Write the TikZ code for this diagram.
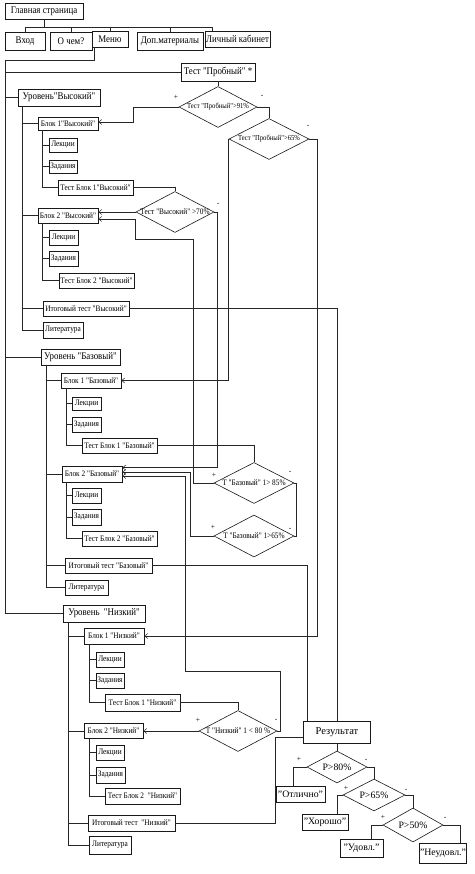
\documentclass[tikz,border=0pt]{standalone}
\usepackage{fontspec}
\setmainfont{Liberation Serif}
\newfontfamily\condf[FakeStretch=0.87]{Liberation Serif}
\usetikzlibrary{shapes.geometric,arrows.meta}
\begin{document}
\begin{tikzpicture}[x=1pt,y=-1pt,
  ln/.style={draw=black!85, line width=0.6pt},
  arr/.style={ln, -{Straight Barb[length=3pt,width=5pt,line width=0.5pt]}},
  bx/.style={draw=black!90, line width=0.7pt, inner sep=0.3pt, fill=white, font=\condf\fontsize{8.4}{9}\selectfont},
  big/.style={bx, font=\condf\fontsize{10.2}{11}\selectfont},
  res/.style={bx, font=\fontsize{9.8}{10}\selectfont},
  dia/.style={diamond, draw=black!90, line width=0.6pt, inner sep=0pt, fill=white},
  dts/.style={inner sep=0pt, font=\condf\fontsize{7.6}{8}\selectfont},
  dtm/.style={inner sep=0pt, font=\condf\fontsize{8.4}{9}\selectfont},
  dtl/.style={inner sep=0pt, font=\fontsize{9.8}{10}\selectfont},
  sg/.style={inner sep=0pt, font=\fontsize{7.5}{7.5}\selectfont}
]
\useasboundingbox[fill=white] (0,0) rectangle (474,874);

% ---------- top menu ----------
\node[big, minimum width=78pt, minimum height=16pt] (gl) at (44,11) {Главная страница};
\node[big, minimum width=40pt, minimum height=18pt] (vhod) at (25,41) {Вход};
\node[big, minimum width=42pt, minimum height=18pt] (ochem) at (71,41) {О чем?};
\node[big, minimum width=36pt, minimum height=16pt] (menu) at (110,39) {Меню};
\node[big, minimum width=66pt, minimum height=18pt] (dop) at (170,41) {Доп.материалы};
\node[big, minimum width=65pt, minimum height=16pt] (lk) at (237.5,39) {Личный кабинет};

\node[big, minimum width=74pt, minimum height=18pt] (tp) at (218,72) {Тест "Пробный" *};
\node[dia, minimum width=78pt, minimum height=41pt] (d1) at (218,107) {};
\node[dts] (d1t) at (218,107) {Тест "Пробный">91\%};
\node[dia, minimum width=80pt, minimum height=41pt] (d2) at (269,139) {};
\node[dts] (d2t) at (269,139) {Тест "Пробный">65\%};

% ---------- level high ----------
\node[big, minimum width=82pt, minimum height=17pt] (uv) at (59,97.5) {Уровень"Высокий"};
\node[bx, minimum width=60pt, minimum height=13pt] (b1v) at (68,123.5) {Блок 1"Высокий"};
\node[bx, minimum width=28pt, minimum height=14pt] (lec1v) at (63,145) {Лекции};
\node[bx, minimum width=28pt, minimum height=13pt] (zad1v) at (63,166.5) {Задания};
\node[bx, minimum width=75pt, minimum height=15pt] (t1v) at (95.5,187.5) {Тест Блок 1"Высокий"};
\node[dia, minimum width=78pt, minimum height=41pt] (d3) at (175,212) {};
\node[dtm] (d3t) at (175,212) {Тест "Высокий" >70\%};
\node[bx, minimum width=60pt, minimum height=15pt] (b2v) at (68,215.5) {Блок 2 "Высокий"};
\node[bx, minimum width=29pt, minimum height=15pt] (lec2v) at (63.5,237.5) {Лекции};
\node[bx, minimum width=29pt, minimum height=15pt] (zad2v) at (63.5,258.5) {Задания};
\node[bx, minimum width=75pt, minimum height=15pt] (t2v) at (96.5,280.5) {Тест Блок 2 "Высокий"};
\node[bx, minimum width=86pt, minimum height=15pt] (itv) at (86,308.5) {Итоговый тест "Высокий"};
\node[bx, minimum width=40pt, minimum height=16pt] (litv) at (63,330) {Литература};

% ---------- level base ----------
\node[big, minimum width=79pt, minimum height=16pt] (ub) at (80.5,357) {Уровень "Базовый"};
\node[bx, minimum width=60pt, minimum height=15pt] (b1b) at (91,380.5) {Блок 1 "Базовый"};
\node[bx, minimum width=29pt, minimum height=13pt] (lec1b) at (86.5,403.5) {Лекции};
\node[bx, minimum width=29pt, minimum height=15pt] (zad1b) at (86.5,424.5) {Задания};
\node[bx, minimum width=75pt, minimum height=15pt] (t1b) at (119.5,445.5) {Тест Блок 1 "Базовый"};
\node[dia, minimum width=80pt, minimum height=41pt] (d4) at (254,483) {};
\node[dtm] (d4t) at (254,483) {Т "Базовый" 1> 85\%};
\node[dia, minimum width=80pt, minimum height=42pt] (d5) at (254,536) {};
\node[dtm] (d5t) at (254,536) {Т "Базовый" 1>65\%};
\node[bx, minimum width=60pt, minimum height=16pt] (b2b) at (92,474) {Блок 2 "Базовый"};
\node[bx, minimum width=29pt, minimum height=15pt] (lec2b) at (86.5,495.5) {Лекции};
\node[bx, minimum width=29pt, minimum height=16pt] (zad2b) at (86.5,517) {Задания};
\node[bx, minimum width=75pt, minimum height=15pt] (t2b) at (119.5,538.5) {Тест Блок 2 "Базовый"};
\node[bx, minimum width=87pt, minimum height=15pt] (itb) at (108.5,565.5) {Итоговый тест "Базовый"};
\node[bx, minimum width=43pt, minimum height=15pt] (litb) at (86.5,587.5) {Литература};

% ---------- level low ----------
\node[big, minimum width=82pt, minimum height=17pt] (un) at (104,613.5) {Уровень\ \ "Низкий"};
\node[bx, minimum width=60pt, minimum height=16pt] (b1n) at (114,636) {Блок 1 "Низкий"};
\node[bx, minimum width=28pt, minimum height=15pt] (lec1n) at (110,659.5) {Лекции};
\node[bx, minimum width=28pt, minimum height=15pt] (zad1n) at (110,680.5) {Задания};
\node[bx, minimum width=75pt, minimum height=17pt] (t1n) at (142.5,702.5) {Тест Блок 1 "Низкий"};
\node[dia, minimum width=78pt, minimum height=41pt] (d6) at (238,731) {};
\node[dtm] (d6t) at (238,731) {Т "Низкий" 1 < 80 \%};
\node[bx, minimum width=59pt, minimum height=15pt] (b2n) at (113.5,731) {Блок 2 "Низкий"};
\node[bx, minimum width=28pt, minimum height=15pt] (lec2n) at (110,752.5) {Лекции};
\node[bx, minimum width=29pt, minimum height=16pt] (zad2n) at (110.5,775) {Задания};
\node[bx, minimum width=75pt, minimum height=16pt] (t2n) at (142.5,796) {Тест Блок 2\ \ "Низкий"};
\node[bx, minimum width=87pt, minimum height=16pt] (itn) at (131.5,823) {Итоговый тест\ \ "Низкий"};
\node[bx, minimum width=42pt, minimum height=18pt] (litn) at (110,845) {Литература};

% ---------- result ----------
\node[res, minimum width=67pt, minimum height=22pt, font=\fontsize{10.5}{11}\selectfont] (rs) at (337,732) {Результат};
\node[dia, minimum width=60pt, minimum height=32pt] (p80) at (337,767) {};
\node[dtl] (p80t) at (337,767) {P>80\%};
\node[res, minimum width=49pt, minimum height=16pt] (otl) at (300.5,794) {"Отлично"};
\node[dia, minimum width=62pt, minimum height=32pt] (p65) at (374,795) {};
\node[dtl] (p65t) at (374,795) {P>65\%};
\node[res, minimum width=46pt, minimum height=16pt] (hor) at (325,822) {"Хорошо"};
\node[dia, minimum width=60pt, minimum height=34pt] (p50) at (413,825) {};
\node[dtl] (p50t) at (413,825) {P>50\%};
\node[res, minimum width=43pt, minimum height=18pt] (udo) at (361.5,848) {"Удовл."};
\node[res, minimum width=44pt, minimum height=20pt] (neud) at (443,853) {"Неудовл."};

% ---------- +/- signs ----------
\node[sg] (s1) at (176,97) {+};
\node[sg] (s2) at (262,96) {-};
\node[sg] (s3) at (308,126) {-};
\node[sg] (s4) at (218,204) {-};
\node[sg] (s5) at (214,475) {+};
\node[sg] (s6) at (290,472) {-};
\node[sg] (s7) at (213,527) {+};
\node[sg] (s8) at (290,529) {-};
\node[sg] (s9) at (198,720) {+};
\node[sg] (s10) at (276,720) {-};
\node[sg] (s11) at (299,759) {+};
\node[sg] (s12) at (366,760) {-};
\node[sg] (s13) at (346,788) {+};
\node[sg] (s14) at (406,790) {-};
\node[sg] (s15) at (383,817) {+};
\node[sg] (s16) at (445,818) {-};

% ---------- connectors: top ----------
\coordinate (hb) at (44,27);
\draw[ln] (gl.south) -- (hb);
\draw[ln] (vhod.north) |- (hb);
\draw[ln] (ochem.north) |- (hb);
\draw[ln] (menu.north) |- (hb);
\draw[ln] (dop.north) |- (hb);
\draw[ln] ([xshift=8pt]lk.north west) |- (hb);

\coordinate (tk) at (5,60);
\draw[ln] ([xshift=3pt]menu.south west) |- (tk);
\draw[ln] (tk) |- (un.west);
\draw[ln] (tp.west) -- (tp.west -| tk);
\draw[ln] (uv.west) -- (uv.west -| tk);
\draw[ln] (ub.west) -- (ub.west -| tk);

% level trunks
\coordinate (kv) at ([xshift=5pt]uv.south west);
\draw[ln] (kv) |- (litv.west);
\foreach \n in {b1v,b2v,itv} \draw[ln] (\n.west) -- (\n.west -| kv);
\coordinate (s1v) at ([xshift=5pt]b1v.south west);
\draw[ln] (s1v) |- (t1v.west);
\foreach \n in {lec1v,zad1v} \draw[ln] (\n.west) -- (\n.west -| s1v);
\coordinate (s2v) at ([xshift=5pt]b2v.south west);
\draw[ln] (s2v) |- (t2v.west);
\foreach \n in {lec2v,zad2v} \draw[ln] (\n.west) -- (\n.west -| s2v);

\coordinate (kb) at ([xshift=6pt]ub.south west);
\draw[ln] (kb) |- (litb.west);
\foreach \n in {b1b,b2b,itb} \draw[ln] (\n.west) -- (\n.west -| kb);
\coordinate (s1b) at ([xshift=6pt]b1b.south west);
\draw[ln] (s1b) |- (t1b.west);
\foreach \n in {lec1b,zad1b} \draw[ln] (\n.west) -- (\n.west -| s1b);
\coordinate (s2b) at ([xshift=5pt]b2b.south west);
\draw[ln] (s2b) |- (t2b.west);
\foreach \n in {lec2b,zad2b} \draw[ln] (\n.west) -- (\n.west -| s2b);

\coordinate (kn) at ([xshift=6pt]un.south west);
\draw[ln] (kn) |- (litn.west);
\foreach \n in {b1n,b2n,itn} \draw[ln] (\n.west) -- (\n.west -| kn);
\coordinate (s1n) at ([xshift=6pt]b1n.south west);
\draw[ln] (s1n) |- (t1n.west);
\foreach \n in {lec1n,zad1n} \draw[ln] (\n.west) -- (\n.west -| s1n);
\coordinate (s2n) at ([xshift=6pt]b2n.south west);
\draw[ln] (s2n) |- (t2n.west);
\foreach \n in {lec2n,zad2n} \draw[ln] (\n.west) -- (\n.west -| s2n);

% ---------- decisions ----------
\draw[ln] (tp.south) -- (d1.north);
\draw[arr] (d1.west) -- ++(-45,0) |- ([yshift=1.5pt]b1v.east);
\draw[ln] (d1.east) -| (d2.north);
\draw[arr] (d2.west) |- (b1b.east);
\draw[arr] (d2.east) -- ++(8,0) |- (b1n.east);

\draw[ln] (t1v.east) -| (d3.north);
\draw[arr] (d3.west) -- (d3.west -| b2v.east);
\draw[arr] (d3.east) -- ++(3,0) |- ([yshift=-2pt]b2b.north east);

\draw[ln] (t1b.east) -| (d4.north);
\draw[arr] (d4.west) -| (193,239) -| (135,219) -- ([yshift=-3.5pt]b2v.east);
\draw[ln] (d4.east) -- ++(2,0) |- (d5.east);
\draw[arr] (d5.west) -- ++(-23,0) |- ([yshift=2pt]b2b.east);

\draw[ln] (t1n.east) -| (d6.north);
\draw[arr] (d6.west) -- (d6.west -| b2n.east);
\draw[arr] (d6.east) -- ++(3,0) |- (185,671) |- ([yshift=-2pt]b2b.east);

% ---------- results ----------
\draw[ln] (itv.east) -| (rs.north);
\draw[ln] (itb.east) -| ([xshift=4pt]rs.north west);
\draw[ln] (itn.east) -| (275,737) -- ([yshift=-5pt]rs.west);

\draw[ln] (rs.south) -- (p80.north);
\draw[ln] (p80.west) -| ([xshift=-7pt]otl.north);
\draw[ln] (p80.east) -| (p65.north);
\draw[ln] (p65.west) -| ([xshift=12pt]hor.north);
\draw[ln] (p65.east) -| (p50.north);
\draw[ln] (p50.west) -| ([xshift=10pt]udo.north);
\draw[ln] (p50.east) -| ([xshift=17pt]neud.north);
\end{tikzpicture}
\end{document}
